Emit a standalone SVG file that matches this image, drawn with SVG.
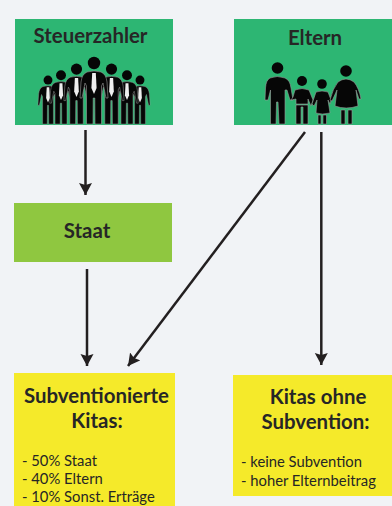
<svg xmlns="http://www.w3.org/2000/svg" width="392" height="506" viewBox="0 0 392 506">
<style>
.g{fill:#2db673}.y{fill:#f5ea2a}.s{fill:#8fc740}
text{font-family:"Lato","Open Sans",sans-serif;fill:#262626}
.h{font-weight:700;font-size:20.4px;text-anchor:middle}
.b{font-size:14.8px;font-family:"Lato",sans-serif}
.c{stroke:#231f20;stroke-width:2.5;fill:none}
.p{fill:#060606}
.o{fill:#060606;stroke:#9a9a9a;stroke-width:.6}
</style>
<defs>
<marker id="a" markerUnits="userSpaceOnUse" markerWidth="14" markerHeight="14" refX="12" refY="6.5" orient="auto"><path d="M0 0L12 6.500L0 13L2 6.500Z" fill="#231f20"/></marker>
<g id="man">
<circle cx="0" cy="-61" r="6.200" class="p"/>
<path class="o" d="M-7 -52Q0 -54 7 -52Q12 -50 13 -42L14 -26L12 -26L9 -41L7.500 -38L7.500 0L1 0L.8 -26L-.8 -26L-1 0L-7.500 0L-7.500 -38L-9 -41L-12 -26L-14 -26L-13 -42Q-12 -50 -7 -52Z"/>
<path d="M-1.800 -51H1.800L2.600 -36L0 -30L-2.600 -36Z" fill="#eee"/>
</g>
</defs>
<rect width="392" height="506" fill="#f1f3f6"/>
<g id="connectors">
<path class="c" d="M85.500 130V195" marker-end="url(#a)"/>
<path class="c" d="M87 269V366" marker-end="url(#a)"/>
<path class="c" d="M305 132L128 366" marker-end="url(#a)"/>
<path class="c" d="M321.300 132V365" marker-end="url(#a)"/>
</g>
<g id="steuerzahler">
<rect class="g" x="15" y="19" width="158" height="106"/>
<text class="h" x="90.500" y="43">Steuerzahler</text>
<use href="#man" transform="translate(48,124) scale(.72)"/>
<use href="#man" transform="translate(140,124) scale(.72)"/>
<use href="#man" transform="translate(61,124) scale(.8)"/>
<use href="#man" transform="translate(127,124) scale(.8)"/>
<use href="#man" transform="translate(76.500,124) scale(.9)"/>
<use href="#man" transform="translate(111.500,124) scale(.9)"/>
<use href="#man" transform="translate(94,124)"/>
</g>
<g id="eltern">
<rect class="g" x="234" y="19" width="158" height="106"/>
<text class="h" x="315" y="44.500">Eltern</text>
<g class="p">
<circle cx="277.500" cy="68" r="5.800"/>
<path class="o" d="M270 78Q277 75 285 78Q290 80 291 88L293 100L290 100L287 90L285 90V124H279L278 102H276.500L276 124H270.500V90L268 100L265 100L265.500 88Q266 80 270 78Z"/>
<circle cx="302" cy="81" r="5"/>
<path class="o" d="M295 90Q302 87 309 90L313 100L311 106L308 99V104H296V99L291 100L293 97ZM296 105H308V124H303V107H301V124H296Z"/>
<circle cx="322" cy="84" r="4.800"/>
<path class="o" d="M316 92Q322 90 328 92L331 100L330 104L328 100L330 113Q322 115 316 113L317 100L314 106L312 104ZM318 115H321V124H318ZM323 115H326.500V124H323Z"/>
<circle cx="346" cy="71" r="5.800"/>
<path class="o" d="M338 82Q346 76 354 82Q359 88 361 99L359 99L356 90L358 106Q346 110 335 106L337 90L332 101L330 100Q333 88 338 82ZM341 110H345V124H341ZM348 110H352V124H348Z"/>
</g>
</g>
<g id="staat">
<rect class="s" x="14" y="203" width="158" height="59"/>
<text class="h" x="87" y="238">Staat</text>
</g>
<g id="subventionierte">
<rect class="y" x="14" y="373" width="161" height="133"/>
<text class="h" x="96.500" y="403">Subventionierte</text>
<text class="h" x="97" y="428">Kitas:</text>
<text class="b" x="22" y="466">- 50% Staat</text>
<text class="b" x="22" y="484">- 40% Eltern</text>
<text class="b" x="22" y="502">- 10% Sonst. Erträge</text>
</g>
<g id="ohne">
<rect class="y" x="233" y="375" width="159" height="121"/>
<text class="h" x="318" y="404">Kitas ohne</text>
<text class="h" x="315.500" y="429">Subvention:</text>
<text class="b" x="241" y="467">- keine Subvention</text>
<text class="b" x="241" y="486">- hoher Elternbeitrag</text>
</g>
</svg>
